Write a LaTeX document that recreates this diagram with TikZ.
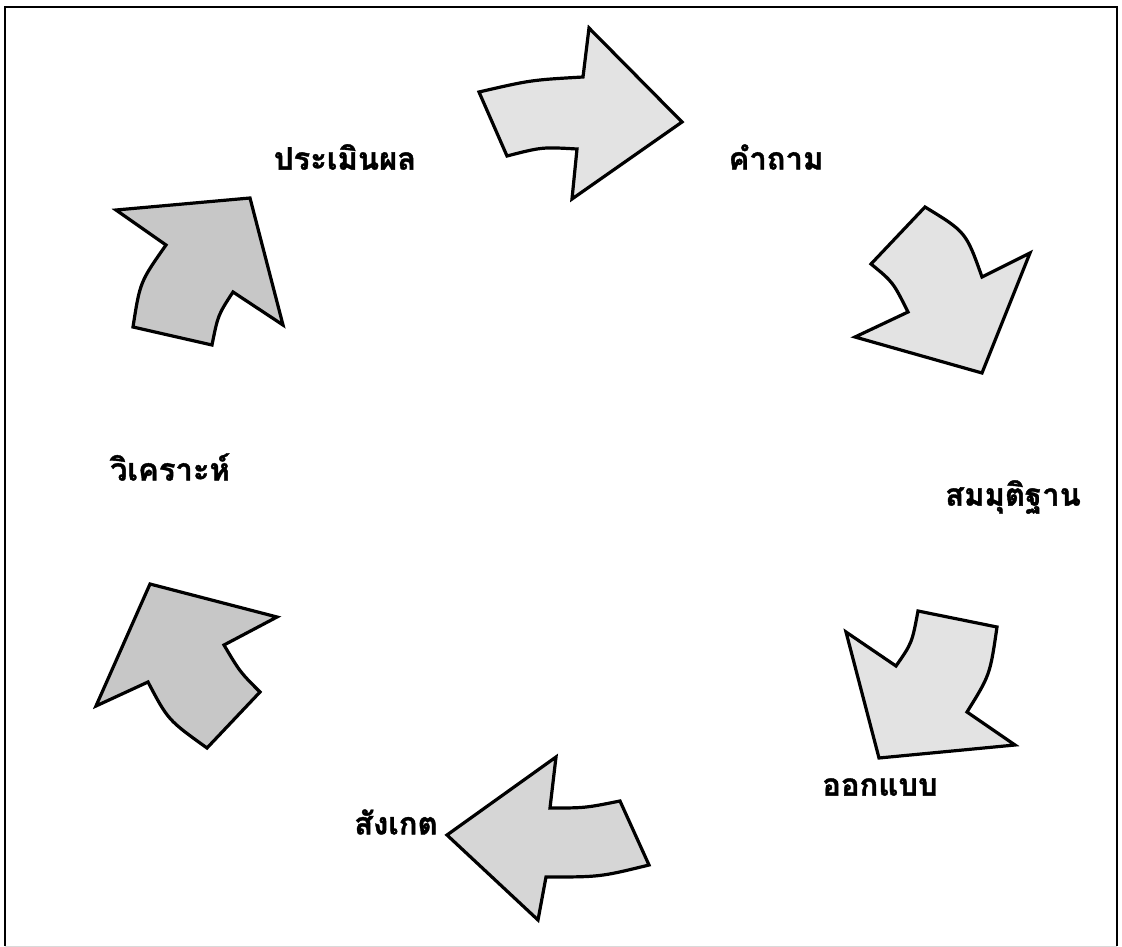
\documentclass[tikz,border=0pt]{standalone}
\usepackage{fontspec}
\newfontfamily\thaifont[Script=Thai,FakeBold=1.2]{Loma}
\tikzset{
  arr/.style={draw=black, line width=3.2pt, line join=miter, fill=#1},
  lbl/.style={font=\thaifont\bfseries\fontsize{31}{35}\selectfont, inner sep=0pt}
}
\definecolor{fillA}{gray}{0.89}
\definecolor{fillB}{gray}{0.84}
\definecolor{fillC}{gray}{0.78}
\begin{document}
\begin{tikzpicture}[x=1pt,y=-1pt]
\useasboundingbox (0,0) rectangle (1122,947);
\fill[white] (0,0) rectangle (1122,947);
% frame
\draw[line width=2pt] (5,946) -- (5,7) -- (1117,7) -- (1117,946);
\draw[line width=1pt, gray!30] (5,946) -- (1117,946);
% arrow 1 (top)
\draw[arr=fillA] (479,92) .. controls (531,80) .. (583,77) -- (589,28) -- (682,122) -- (572,199) -- (577,149) .. controls (542,147) .. (507,156) -- cycle;
% arrow 2 (upper right)
\draw[arr=fillA] (925,207) .. controls (966,232) .. (982,277) -- (1030,253) -- (982,373) -- (855,337) -- (908,312) .. controls (893,282) .. (871,264) -- cycle;
% arrow 3 (lower right)
\draw[arr=fillA] (918,611) -- (997,627) .. controls (990,675) .. (967,712) -- (1015,745) -- (879,758) -- (846,632) -- (896,666) .. controls (912,643) .. (918,611) -- cycle;
% arrow 4 (bottom)
\draw[arr=fillB] (620,801) .. controls (585,808) .. (550,808) -- (556,757) -- (447,835) -- (538,920) -- (546,877) .. controls (600,877) .. (649,865) -- cycle;
% arrow 5 (lower left)
\draw[arr=fillC] (207,748) .. controls (168,720) .. (148,682) -- (96,706) -- (150,584) -- (277,617) -- (224,645) .. controls (240,672) .. (260,692) -- cycle;
% arrow 6 (upper left)
\draw[arr=fillC] (133,327) .. controls (140,282) .. (166,245) -- (116,210) -- (250,198) -- (283,325) -- (233,292) .. controls (218,315) .. (212,345) -- cycle;
% labels
\node[lbl] (l1) at (345,157) {ประเมินผล};
\node[lbl] (l2) at (776,157) {คำถาม};
\node[lbl] (l3) at (1013,497) {สมมุติฐาน};
\node[lbl] (l4) at (880,787) {ออกแบบ};
\node[lbl] (l5) at (396,822) {สังเกต};
\node[lbl] (l6) at (170,467) {วิเคราะห์};
\end{tikzpicture}
\end{document}
